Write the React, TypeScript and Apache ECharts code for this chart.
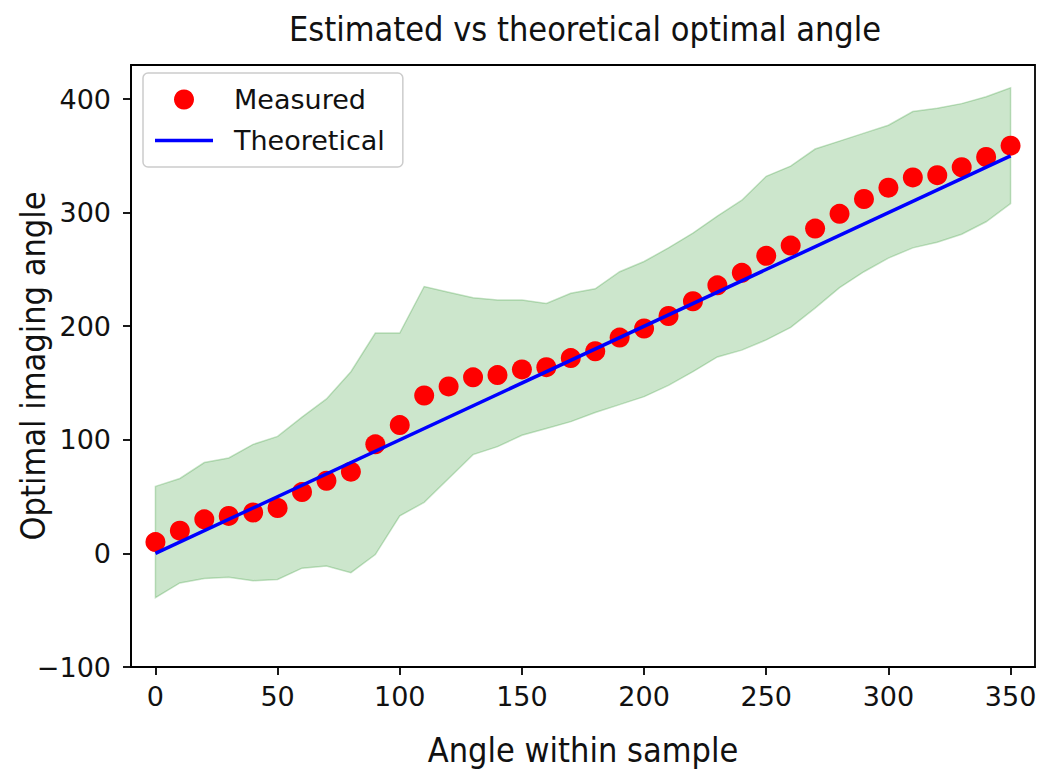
import React, { useEffect, useRef } from "react";
import * as echarts from "echarts";

const xs = [0, 10, 20, 30, 40, 50, 60, 70, 80, 90, 100, 110, 120, 130, 140, 150, 160, 170, 180, 190, 200, 210, 220, 230, 240, 250, 260, 270, 280, 290, 300, 310, 320, 330, 340, 350];
const measured = [10, 20, 30, 33, 36, 40, 54, 64, 72, 96, 113, 139, 147, 155, 157, 162, 164, 172, 178, 190, 198, 209, 222, 236, 247, 262, 271, 286, 299, 312, 322, 331, 333, 340, 349, 359];
const upper = [59, 66, 80, 84, 96, 103, 120, 136, 160, 194, 194, 235, 230, 225, 223, 223, 220, 229, 233, 248, 257, 269, 282, 297, 311, 332, 341, 356, 363, 370, 377, 389, 392, 396, 402, 410];
const lower = [-39, -26, -22, -21, -24, -23, -13, -11, -17, -1, 33, 45, 66, 87, 94, 104, 110, 116, 124, 131, 138, 148, 160, 173, 179, 188, 199, 216, 234, 248, 260, 269, 274, 281, 292, 308];
const theoryX = [0, 350];
const theoryY = [0, 350];
const xTicks = [0, 50, 100, 150, 200, 250, 300, 350];
const yTicks = [-100, 0, 100, 200, 300, 400];

const condensed = "'DejaVu Sans Condensed', 'Open Sans', sans-serif";
const plain = "'DejaVu Sans', sans-serif";
const minus = (v: number) => String(v).replace("-", "\u2212");

export default function App() {
  const ref = useRef<HTMLDivElement>(null);
  useEffect(() => {
    const chart = echarts.init(ref.current!, null, { renderer: "svg" });
    chart.setOption({
      animation: false,
      backgroundColor: "#ffffff",
      title: {
        text: "Estimated vs theoretical optimal angle",
        left: 580,
        textAlign: "center",
        top: 7,
        textStyle: { fontFamily: condensed, fontWeight: "normal", fontSize: 34, color: "#111" },
      },
      legend: {
        left: 143,
        top: 73,
        orient: "vertical",
        backgroundColor: "rgba(255,255,255,0.85)",
        borderColor: "#cccccc",
        borderWidth: 1.5,
        borderRadius: 5,
        padding: [13, 18, 13, 12],
        itemWidth: 58,
        itemHeight: 20,
        itemGap: 14,
        symbolKeepAspect: true,
        textStyle: { fontFamily: plain, fontSize: 27, color: "#111", padding: [0, 0, 0, 16] },
        data: [
          { name: "Measured", icon: "circle" },
          { name: "Theoretical", icon: "path://M0,0 L58,0 L58,3.5 L0,3.5 Z" },
        ],
      },
      grid: {
        left: 131,
        right: 7,
        top: 65,
        bottom: 109,
        containLabel: false,
        outerBoundsMode: "none",
        show: true,
        borderColor: "#000",
        borderWidth: 1.8,
        backgroundColor: "transparent",
      },
      xAxis: {
        type: "value",
        min: -10,
        max: 360,
        name: "Angle within sample",
        nameLocation: "middle",
        nameGap: 66,
        nameMoveOverlap: false,
        nameTextStyle: { fontFamily: condensed, fontSize: 34, color: "#111" },
        axisLine: { show: true, onZero: false, lineStyle: { color: "#000", width: 1.8 } },
        axisTick: { show: true, length: 8, lineStyle: { color: "#000", width: 1.8 }, customValues: xTicks },
        axisLabel: { customValues: xTicks, fontFamily: plain, fontSize: 27, color: "#111", margin: 16, formatter: minus },
        splitLine: { show: false },
      },
      yAxis: {
        type: "value",
        min: -100,
        max: 430,
        name: "Optimal imaging angle",
        nameLocation: "middle",
        nameGap: 81,
        nameMoveOverlap: false,
        nameTextStyle: { fontFamily: condensed, fontSize: 34, color: "#111" },
        axisLine: { show: true, onZero: false, lineStyle: { color: "#000", width: 1.8 } },
        axisTick: { show: true, length: 8, lineStyle: { color: "#000", width: 1.8 }, customValues: yTicks },
        axisLabel: { customValues: yTicks, fontFamily: plain, fontSize: 27, color: "#111", margin: 20, formatter: minus },
        splitLine: { show: false },
      },
      series: [
        {
          name: "band",
          type: "custom",
          z: 1,
          silent: true,
          data: xs.map((x, i) => [x, upper[i], lower[i]]),
          encode: { x: 0, y: [1, 2] },
          renderItem: (params: any, api: any) => {
            if (params.dataIndex !== 0) return null;
            const pts: number[][] = [];
            for (let i = 0; i < xs.length; i++) pts.push(api.coord([xs[i], upper[i]]));
            for (let i = xs.length - 1; i >= 0; i--) pts.push(api.coord([xs[i], lower[i]]));
            return {
              type: "polygon",
              shape: { points: pts },
              style: { fill: "rgba(0,128,0,0.2)", stroke: "rgba(0,128,0,0.22)", lineWidth: 1.5 },
            };
          },
        },
        {
          name: "Measured",
          type: "scatter",
          z: 2,
          symbol: "circle",
          symbolSize: 20,
          itemStyle: { color: "#ff0000", opacity: 1 },
          data: xs.map((x, i) => [x, measured[i]]),
        },
        {
          name: "Theoretical",
          type: "line",
          z: 3,
          symbol: "none",
          showSymbol: false,
          lineStyle: { color: "#0000ff", width: 3.5 },
          itemStyle: { color: "#0000ff" },
          data: theoryX.map((x, i) => [x, theoryY[i]]),
        },
      ],
    });
    return () => chart.dispose();
  }, []);
  return <div ref={ref} style={{ position: "fixed", left: 0, top: 0, width: 1042, height: 776 }} />;
}
